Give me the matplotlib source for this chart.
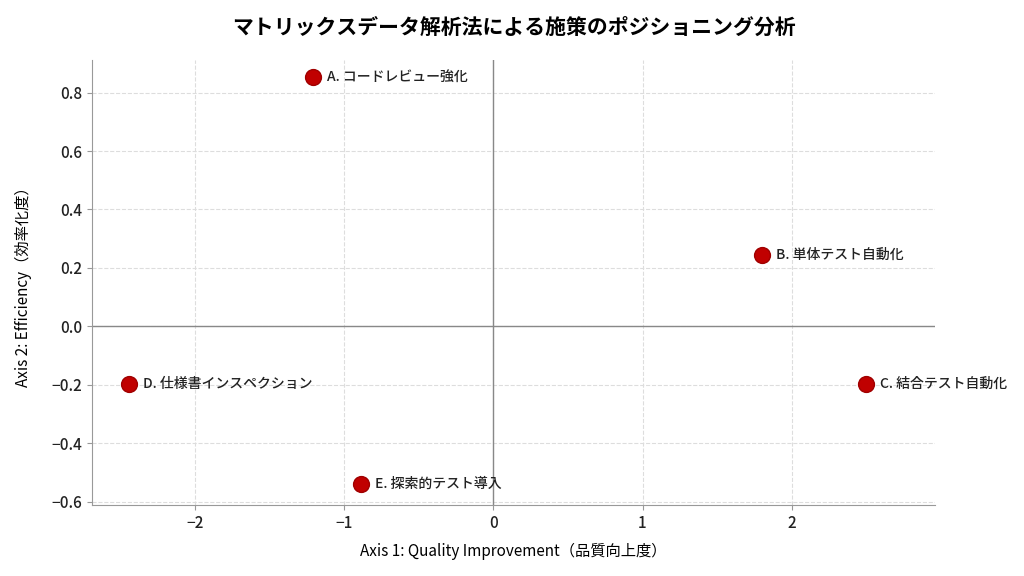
import matplotlib
matplotlib.use("Agg")
import matplotlib.pyplot as plt

plt.rcParams['font.family'] = ['Noto Sans CJK JP', 'DejaVu Sans']
plt.rcParams['axes.unicode_minus'] = True

labels = ["A. コードレビュー強化", "B. 単体テスト自動化", "C. 結合テスト自動化",
          "D. 仕様書インスペクション", "E. 探索的テスト導入"]
x_vals = [-1.21, 1.80, 2.50, -2.44, -0.89]
y_vals = [0.855, 0.245, -0.198, -0.198, -0.54]

fig, ax = plt.subplots(figsize=(10.24, 5.76), dpi=100)
fig.subplots_adjust(left=0.09, right=0.913, top=0.895, bottom=0.123)

ax.axhline(0, color="#888888", linewidth=1.0, zorder=1)
ax.axvline(0, color="#888888", linewidth=1.0, zorder=1)

ax.scatter(x_vals, y_vals, s=130, color="#c00000", edgecolor="#a00000", zorder=3)
for x, y, lab in zip(x_vals, y_vals, labels):
    ax.annotate(lab, (x, y), xytext=(10, 0), textcoords="offset points",
                va="center", ha="left", fontsize=10, color="#222222",
                fontweight="medium")

ax.set_xlim(-2.69, 2.96)
ax.set_ylim(-0.612, 0.91)
ax.set_xticks([-2, -1, 0, 1, 2])
ax.set_yticks([-0.6, -0.4, -0.2, 0.0, 0.2, 0.4, 0.6, 0.8])

ax.grid(True, linestyle="--", color="#dddddd", linewidth=0.8)
ax.set_axisbelow(True)
for side in ["top", "right"]:
    ax.spines[side].set_visible(False)
for side in ["left", "bottom"]:
    ax.spines[side].set_color("#999999")
ax.tick_params(colors="#222222", labelsize=11)
ax.tick_params(axis="both", color="#999999")
for t in ax.get_xticklabels() + ax.get_yticklabels():
    t.set_fontweight("medium")

ax.set_xlabel("Axis 1: Quality Improvement（品質向上度）", fontsize=11, labelpad=8)
ax.set_ylabel("Axis 2: Efficiency（効率化度）", fontsize=11, labelpad=14)
ax.set_title("マトリックスデータ解析法による施策のポジショニング分析",
             fontsize=15, fontweight="bold", pad=19)

fig.savefig("out.png", dpi=100)
